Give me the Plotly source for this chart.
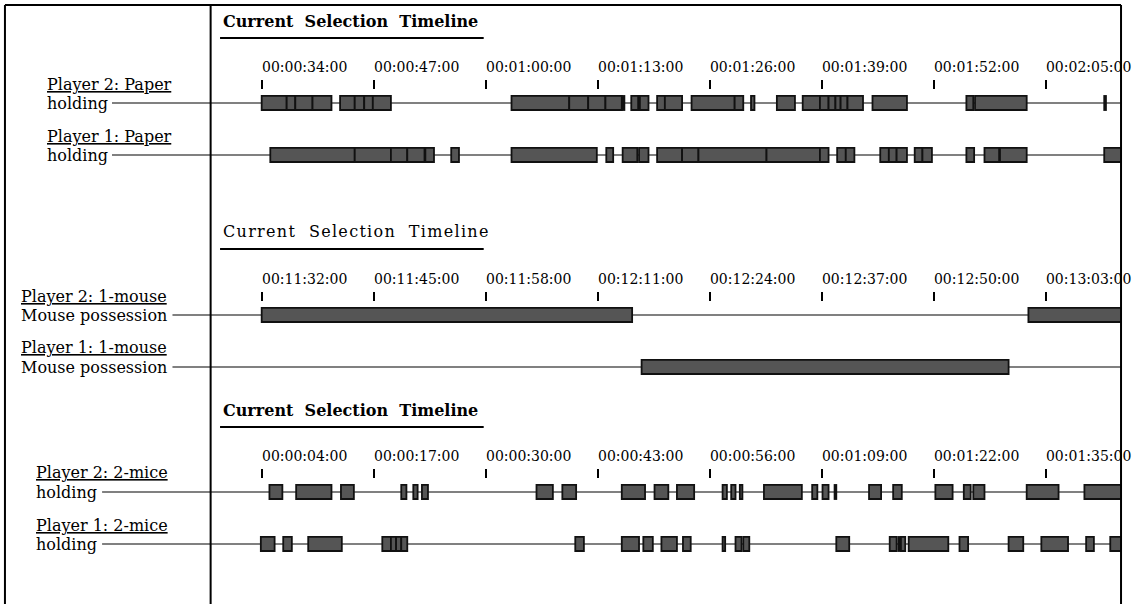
import plotly.graph_objects as go

W, H = 1134, 604
FONT = "DejaVu Serif"

# ---------------- data ----------------
panel_title = "Current  Selection  Timeline"

players_paper = ["Player 2: Paper", "Player 1: Paper"]
states_paper = ["holding", "holding"]
players_1mouse = ["Player 2: 1-mouse", "Player 1: 1-mouse"]
states_1mouse = ["Mouse possession", "Mouse possession"]
players_2mice = ["Player 2: 2-mice", "Player 1: 2-mice"]
states_2mice = ["holding", "holding"]

tick_secs_paper = [34, 47, 60, 73, 86, 99, 112, 125]
tick_text_paper = ["00:00:34:00", "00:00:47:00", "00:01:00:00", "00:01:13:00",
                   "00:01:26:00", "00:01:39:00", "00:01:52:00", "00:02:05:00"]
tick_secs_1mouse = [692, 705, 718, 731, 744, 757, 770, 783]
tick_text_1mouse = ["00:11:32:00", "00:11:45:00", "00:11:58:00", "00:12:11:00",
                    "00:12:24:00", "00:12:37:00", "00:12:50:00", "00:13:03:00"]
tick_secs_2mice = [4, 17, 30, 43, 56, 69, 82, 95]
tick_text_2mice = ["00:00:04:00", "00:00:17:00", "00:00:30:00", "00:00:43:00",
                   "00:00:56:00", "00:01:09:00", "00:01:22:00", "00:01:35:00"]

# episode start / end times (seconds)
p2_paper_start = [34.0, 36.9, 37.9, 39.9, 43.1, 44.8, 45.9, 46.9, 63.0, 69.7, 71.9, 73.9,
                  75.9, 76.9, 77.9, 79.9, 80.8, 83.9, 88.9, 90.8, 93.8, 96.8, 98.8, 99.8,
                  100.6, 101.2, 102.0, 104.9, 115.8, 116.8, 131.8]
p2_paper_end = [36.9, 37.9, 39.9, 42.1, 44.8, 45.9, 46.9, 49.0, 69.7, 71.9, 73.9, 75.8,
                76.1, 77.7, 78.9, 80.8, 82.8, 88.9, 89.9, 91.2, 95.9, 98.8, 99.8, 100.6,
                101.2, 102.0, 103.8, 108.9, 116.6, 122.8, 132.0]
p1_paper_start = [35.0, 44.8, 49.0, 50.9, 53.0, 56.0, 63.0, 74.0, 75.9, 77.8, 79.9, 82.8,
                  84.7, 92.6, 98.8, 100.8, 101.8, 105.8, 106.8, 107.7, 109.8, 110.7,
                  115.8, 117.9, 119.7, 131.8]
p1_paper_end = [44.8, 49.0, 50.9, 52.9, 54.0, 56.9, 72.9, 74.8, 77.6, 78.9, 82.8, 84.7,
                92.6, 98.8, 99.8, 101.8, 102.8, 106.8, 107.7, 108.9, 110.7, 111.8,
                116.7, 119.6, 122.8, 136.0]

p2_1mouse_start = [692.0, 781.0]
p2_1mouse_end = [735.0, 800.0]
p1_1mouse_start = [736.1]
p1_1mouse_end = [778.7]

p2_2mice_start = [4.9, 8.0, 13.2, 20.2, 21.6, 22.6, 35.9, 38.9, 45.8, 49.6, 52.2, 57.5,
                  58.5, 59.5, 62.3, 67.9, 69.1, 70.5, 74.5, 77.3, 82.2, 85.5, 86.6, 92.8, 99.5]
p2_2mice_end = [6.4, 12.1, 14.7, 20.8, 22.1, 23.3, 37.8, 40.5, 48.5, 51.2, 54.2, 58.0,
                59.0, 59.8, 66.7, 68.5, 69.8, 70.7, 75.9, 78.3, 84.2, 86.3, 87.9, 96.5, 108.0]
p1_2mice_start = [3.9, 6.5, 9.4, 18.0, 19.0, 19.6, 20.2, 40.4, 45.8, 48.3, 50.4, 52.9,
                  57.5, 59.0, 59.9, 70.7, 76.9, 77.9, 78.2, 79.1, 85.0, 90.7, 94.5, 99.7, 102.5]
p1_2mice_end = [5.5, 7.5, 13.3, 19.0, 19.6, 20.2, 20.9, 41.4, 47.8, 49.4, 52.2, 53.8,
                57.8, 59.7, 60.6, 72.2, 77.7, 78.0, 78.7, 83.7, 86.0, 92.4, 97.6, 100.6, 108.0]

# ---------------- layout helpers ----------------
def px(x):
    return x / W

def py(y):
    return 1 - y / H

ROW_GAP = 52.0
Y_RANGE = [-0.577, 1.442]
PLOT_X0, PLOT_X1 = 213, 1131

panels = [
    dict(ticks=tick_secs_paper, text=tick_text_paper, rng=[28.13, 133.75],
         rows=[(p2_paper_start, p2_paper_end), (p1_paper_start, p1_paper_end)],
         players=players_paper, states=states_paper, bold=True,
         row_px=103, label_x=45, line_x=113, title_px=21),
    dict(ticks=tick_secs_1mouse, text=tick_text_1mouse, rng=[686.13, 791.75],
         rows=[(p2_1mouse_start, p2_1mouse_end), (p1_1mouse_start, p1_1mouse_end)],
         players=players_1mouse, states=states_1mouse, bold=False,
         row_px=315, label_x=19, line_x=174, title_px=232),
    dict(ticks=tick_secs_2mice, text=tick_text_2mice, rng=[-1.87, 103.75],
         rows=[(p2_2mice_start, p2_2mice_end), (p1_2mice_start, p1_2mice_end)],
         players=players_2mice, states=states_2mice, bold=True,
         row_px=492, label_x=34, line_x=103, title_px=410),
]

fig = go.Figure()
shapes = []
annotations = []
layout_axes = {}

for i, p in enumerate(panels, start=1):
    xa = "x" if i == 1 else f"x{i}"
    ya = "y" if i == 1 else f"y{i}"
    top_px = p["row_px"] - 23
    bot_px = p["row_px"] + 82
    for r, (starts, ends) in enumerate(p["rows"]):
        yval = 1 - r
        fig.add_trace(go.Bar(
            orientation="h",
            y=[yval] * len(starts),
            base=starts,
            x=[e - s for s, e in zip(starts, ends)],
            width=0.27,
            marker=dict(color="#555555", line=dict(color="#111111", width=1.8)),
            xaxis=xa, yaxis=ya, showlegend=False, hoverinfo="skip",
        ))
        row_y = p["row_px"] + r * ROW_GAP
        # baseline
        shapes.append(dict(type="line", xref="paper", yref="paper",
                           x0=px(p["line_x"]), x1=px(PLOT_X1), y0=py(row_y), y1=py(row_y),
                           line=dict(color="#808080", width=2), layer="below"))
        annotations.append(dict(xref="paper", yref="paper", x=px(p["label_x"]), y=py(row_y),
                                xanchor="left", yanchor="middle", showarrow=False,
                                text=p["states"][r],
                                font=dict(family=FONT, size=16, color="black")))
        annotations.append(dict(xref="paper", yref="paper", x=px(p["label_x"]), y=py(row_y - 19),
                                xanchor="left", yanchor="middle", showarrow=False,
                                text=p["players"][r],
                                font=dict(family=FONT, size=16, color="black",
                                          lineposition="under")))
    # title
    t = p["title_px"]
    if p["bold"]:
        ttext = f"<b>{panel_title}</b>"
    else:
        ttext = f"<span style='letter-spacing:1.3px'>{panel_title}</span>"
    annotations.append(dict(xref="paper", yref="paper", x=px(223), y=py(t),
                            xanchor="left", yanchor="middle", showarrow=False,
                            text=ttext,
                            font=dict(family=FONT, size=16, color="black")))
    shapes.append(dict(type="line", xref="paper", yref="paper",
                       x0=px(222), x1=px(488), y0=py(t + 17), y1=py(t + 17),
                       line=dict(color="black", width=2)))

    key_x = "xaxis" if i == 1 else f"xaxis{i}"
    key_y = "yaxis" if i == 1 else f"yaxis{i}"
    layout_axes[key_x] = dict(
        domain=[px(PLOT_X0), px(PLOT_X1)], anchor=ya, side="top", range=p["rng"],
        tickmode="array", tickvals=p["ticks"], ticktext=p["text"],
        ticks="inside", ticklen=9, tickwidth=2, tickcolor="black",
        showgrid=False, zeroline=False, showline=False,
        tickfont=dict(family=FONT, size=14, color="black"),
        ticklabelshift=43, ticklabelstandoff=4, ticklabeloverflow="allow",
        fixedrange=True,
    )
    layout_axes[key_y] = dict(
        domain=[py(bot_px), py(top_px)], anchor=xa, range=Y_RANGE,
        visible=False, fixedrange=True,
    )

# frame
frame = [
    (5, 5, 1131, 5),
    (5, 5, 5, 610),
    (1131, 5, 1131, 610),
    (212.5, 5, 212.5, 610),
]
for x0, y0, x1, y1 in frame:
    shapes.append(dict(type="line", xref="paper", yref="paper",
                       x0=px(x0), x1=px(x1), y0=py(y0), y1=py(y1),
                       line=dict(color="black", width=2)))

fig.update_layout(
    width=W, height=H, margin=dict(l=0, r=0, t=0, b=0),
    paper_bgcolor="white", plot_bgcolor="rgba(0,0,0,0)",
    barmode="overlay", showlegend=False,
    shapes=shapes, annotations=annotations,
    **layout_axes,
)

fig.write_html("out.html",
               config={"displayModeBar": False, "responsive": False},
               post_script="document.body.style.margin='0';")
